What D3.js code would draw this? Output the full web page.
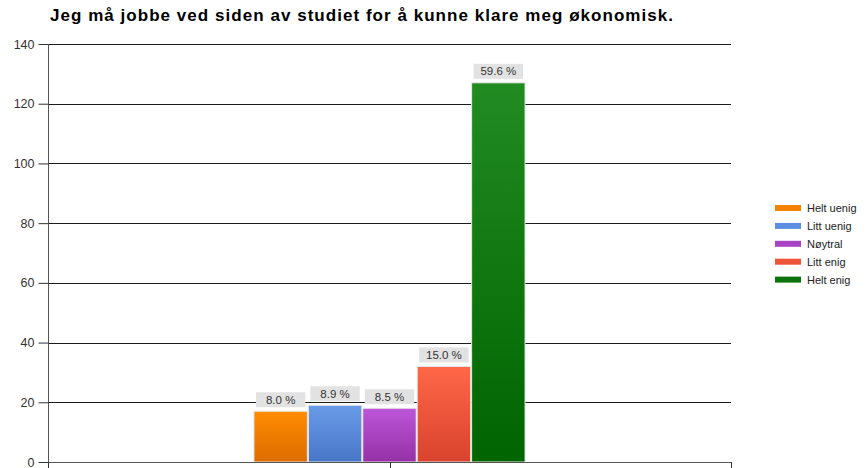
<!DOCTYPE html>
<html><head><meta charset="utf-8">
<script src="https://cdn.jsdelivr.net/npm/d3@7"></script>
<style>
html,body{margin:0;padding:0;background:#fff;}
svg{display:block;font-family:"Liberation Sans",Arial,sans-serif;}
</style></head>
<body><svg id="c" width="866" height="468"></svg>
<script>
const title = "Jeg må jobbe ved siden av studiet for å kunne klare meg økonomisk.";
const groups = [""];
const categories = ["Helt uenig","Litt uenig","Nøytral","Litt enig","Helt enig"];
const values = [17, 19, 18, 32, 127];
const valueLabels = ["8.0 %","8.9 %","8.5 %","15.0 %","59.6 %"];
const yTicks = [0,20,40,60,80,100,120,140];
const topColors = ["#ff8c00","#6a9be9","#bd56d9","#ff6748","#228b22"];
const bottomColors = ["#dc6c00","#4776c6","#9530a6","#d9432d","#006400"];
const legendColors = ["#f58300","#5b8de0","#a843c6","#f0553a","#0b730b"];

const svg = d3.select("#c");
const L = 48, R = 731, T = 44, B = 462;

const defs = svg.append("defs");
categories.forEach((c,i)=>{
  const g = defs.append("linearGradient").attr("id","g"+i)
    .attr("x1",0).attr("y1",0).attr("x2",0).attr("y2",1);
  g.append("stop").attr("offset","0%").attr("stop-color",topColors[i]);
  g.append("stop").attr("offset","100%").attr("stop-color",bottomColors[i]);
});

const y = d3.scaleLinear().domain([0,140]).range([B,T]);
const x0 = d3.scaleBand().domain(groups).range([L,R]).paddingOuter(0.755).paddingInner(0);
const x1 = d3.scaleBand().domain(categories).range([0,x0.bandwidth()]).padding(0);

// title
svg.append("text").attr("x",50).attr("y",21).attr("font-size",17).attr("font-weight","bold")
  .attr("fill","#000").attr("textLength",623).attr("lengthAdjust","spacing").text(title);

// gridlines
svg.append("g").selectAll("line").data(yTicks.filter(d=>d>0)).join("line")
  .attr("x1",L).attr("x2",R).attr("y1",d=>Math.round(y(d))+0.5).attr("y2",d=>Math.round(y(d))+0.5)
  .attr("stroke","#1a1a1a").attr("stroke-width",1);

// y axis
const yAxis = d3.axisLeft(y).tickValues(yTicks).tickSize(10).tickPadding(4);
const ya = svg.append("g").attr("transform",`translate(${L+0.5},0)`).call(yAxis);
ya.select(".domain").attr("stroke","#555").attr("d",`M0,${T}V${B+6}`);
ya.selectAll(".tick line").attr("stroke","#333");
ya.selectAll(".tick text").attr("font-size",12.5).attr("fill","#333")
  .attr("font-family","'Liberation Sans',Arial,sans-serif");

// bars
const bw = x1.bandwidth();
const gx = x0(groups[0]);
svg.append("g").selectAll("rect").data(values).join("rect")
  .attr("x",(d,i)=>gx + x1(categories[i]) + 0.5)
  .attr("y",d=>y(d))
  .attr("width",bw-1)
  .attr("height",d=>B - y(d))
  .attr("fill",(d,i)=>`url(#g${i})`)
  .attr("stroke","#e8e8e8").attr("stroke-width",1);

// value labels
const lab = svg.append("g").selectAll("g").data(values).join("g")
  .attr("transform",(d,i)=>`translate(${gx + x1(categories[i]) + bw/2},${y(d)-4})`);
lab.append("rect").attr("x",-bw/2+2.5).attr("y",-15).attr("width",bw-5).attr("height",15)
  .attr("fill","#e2e2e2");
lab.append("text").attr("text-anchor","middle").attr("y",-3.5).attr("font-size",11.5)
  .attr("fill","#333").text((d,i)=>valueLabels[i]);

// x axis
svg.append("line").attr("x1",L).attr("x2",R).attr("y1",B+0.5).attr("y2",B+0.5).attr("stroke","#555");
const xt = [L, gx + x0.bandwidth()/2, R];
svg.append("g").selectAll("line").data(xt).join("line")
  .attr("x1",d=>Math.round(d)+0.5).attr("x2",d=>Math.round(d)+0.5)
  .attr("y1",B).attr("y2",B+8).attr("stroke","#333");

// legend
const lg = svg.append("g").selectAll("g").data(categories).join("g")
  .attr("transform",(d,i)=>`translate(775,${208 + i*17.9})`);
lg.append("rect").attr("x",0).attr("y",-3).attr("width",26).attr("height",6)
  .attr("fill",(d,i)=>legendColors[i]);
lg.append("text").attr("x",32).attr("y",4).attr("font-size",11).attr("fill","#222").text(d=>d);
</script></body></html>
